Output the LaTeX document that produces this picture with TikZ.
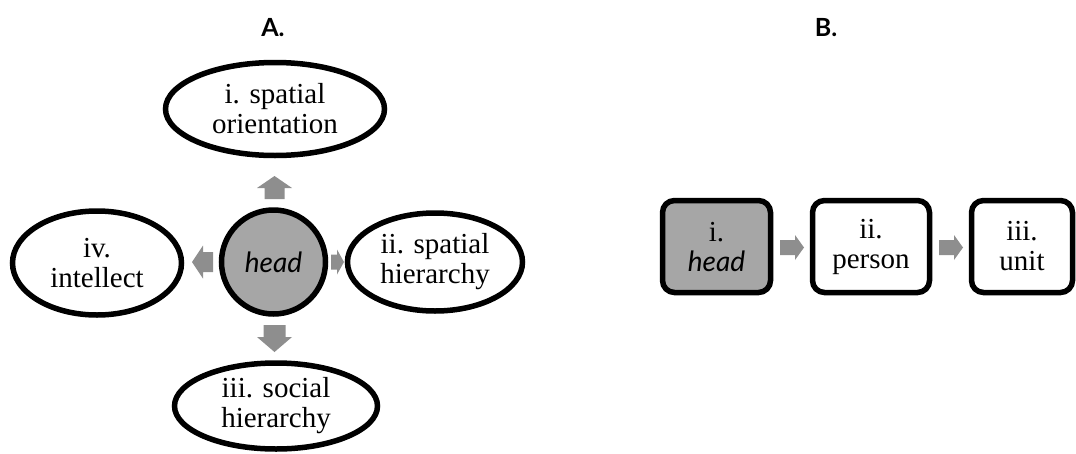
\documentclass[tikz,border=0pt]{standalone}
\usepackage{fontspec}
\setmainfont{Liberation Serif}
\newfontfamily\sansf{Lato}
\usetikzlibrary{shapes.geometric}
\definecolor{fillgray}{HTML}{A6A6A6}
\definecolor{arrgray}{HTML}{8E8E8E}
\begin{document}
\begin{tikzpicture}[x=1pt,y=-1pt,
  every node/.style={font=\fontsize{29}{30}\selectfont, align=center, inner sep=0pt},
  oval/.style={ellipse, draw, line width=5.5pt, fill=white},
  hub/.style={circle, draw, line width=5.5pt, fill=fillgray, minimum size=104pt},
  card/.style={draw, line width=5.5pt, rounded corners=12pt, minimum height=92pt},
  title/.style={font=\sansf\bfseries\fontsize{25}{28}\selectfont},
  hd/.style={font=\sansf\itshape\fontsize{28}{30}\selectfont},
  pics/barrow/.style n args={4}{code={
    \fill[arrgray] (0,-#2/2) -- (#4-#3,-#2/2) -- (#4-#3,-#1/2) -- (#4,0)
      -- (#4-#3,#1/2) -- (#4-#3,#2/2) -- (0,#2/2) -- cycle;}}
]
\useasboundingbox (0,0) rectangle (1076,453);

% titles
\node[title] (tA) at (273,28) {A.};
\node[title] (tB) at (826,28) {B.};

% part A
\node[hub, hd] (head) at (273.5,262) {head};
\node[oval, minimum width=219pt, minimum height=93pt] (o1) at (275,109) {i. spatial\\orientation};
\node[oval, minimum width=175pt, minimum height=98pt] (o2) at (435,262) {ii. spatial\\hierarchy};
\node[oval, minimum width=203pt, minimum height=86pt] (o3) at (276,406) {iii. social\\hierarchy};
\node[oval, minimum width=169pt, minimum height=104pt] (o4) at (97,263) {iv.\\intellect};

\pic[rotate=90] at (274.5,199) {barrow={35}{20}{12}{23}};
\pic[rotate=-90] at (274.5,325) {barrow={35}{22}{15}{27}};
\pic[rotate=180] at (213,262) {barrow={33}{20}{11}{21}};
\pic at (331,262) {barrow={25}{15}{7}{13}};

% part B
\node[card, fill=fillgray, minimum width=108pt] (b1) at (716.5,246.5) {i.\\{\sansf\itshape\fontsize{28}{30}\selectfont head}};
\node[card, fill=white, minimum width=117pt] (b2) at (871,246.5) {ii.\\person};
\node[card, fill=white, minimum width=101pt] (b3) at (1022,246.5) {iii.\\unit};

\pic at (780,247.5) {barrow={25}{15}{9}{24}};
\pic at (939,247.5) {barrow={25}{15}{9}{24}};
\end{tikzpicture}
\end{document}
